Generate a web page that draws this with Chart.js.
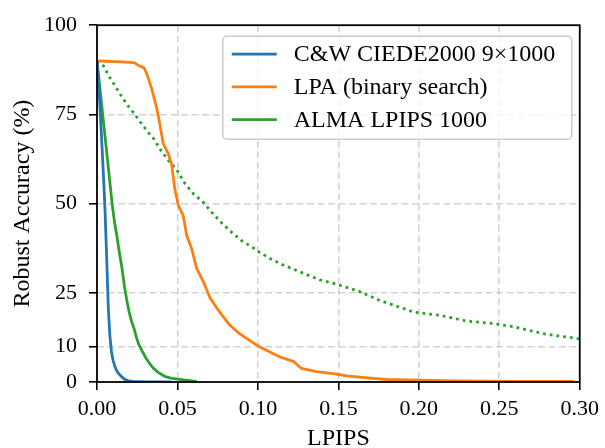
<!DOCTYPE html>
<html><head><meta charset="utf-8">
<script src="https://cdn.jsdelivr.net/npm/chart.js@4"></script>
<style>html,body{margin:0;padding:0;background:#fff}#wrap{width:605px;height:448px}</style>
</head><body><div id="wrap"><canvas id="c" width="605" height="448"></canvas></div>
<script>
// ---- data ----
const seriesLabels = ['C&W CIEDE2000 9×1000', 'LPA (binary search)', 'ALMA LPIPS 1000'];

const cwX = [0, 0.001, 0.002, 0.003, 0.004, 0.005, 0.006, 0.007, 0.008, 0.009, 0.010, 0.011, 0.012, 0.013, 0.015, 0.017, 0.019, 0.022, 0.030, 0.046];
const cwY = [90, 84, 76, 67, 58, 48, 35, 21, 13, 8.5, 6, 4.5, 3.4, 2.6, 1.6, 0.8, 0.4, 0.15, 0.05, 0];

const lpaX = [0, 0.005, 0.010, 0.015, 0.020, 0.023, 0.0256, 0.0293, 0.0307, 0.0338, 0.037, 0.039, 0.0411, 0.0442, 0.0464, 0.0484, 0.0505, 0.0536, 0.0557, 0.0588, 0.0619, 0.066, 0.0681, 0.0702, 0.0743, 0.0784, 0.0826, 0.0888, 0.095, 0.1012, 0.1075, 0.1137, 0.122, 0.127, 0.1365, 0.149, 0.155, 0.1717, 0.18, 0.2006, 0.225, 0.26, 0.296];
const lpaY = [90, 89.9, 89.8, 89.7, 89.6, 89.5, 88.8, 88.0, 86.7, 82.5, 77.0, 72.4, 66.9, 64.1, 61.0, 54.0, 49.6, 46.6, 41.1, 37.4, 31.9, 28.2, 25.9, 23.6, 20.8, 18.3, 15.9, 13.5, 11.6, 9.8, 8.4, 7.0, 5.8, 3.8, 2.9, 2.2, 1.7, 1.0, 0.7, 0.5, 0.3, 0.2, 0.2];

const almaX = [0, 0.002, 0.004, 0.006, 0.008, 0.0095, 0.011, 0.0125, 0.014, 0.0155, 0.017, 0.0185, 0.020, 0.0215, 0.023, 0.0245, 0.026, 0.028, 0.030, 0.0325, 0.035, 0.038, 0.042, 0.046, 0.050, 0.055, 0.062];
const almaY = [90, 81.5, 73, 64.5, 56, 49.5, 44.5, 40.5, 36, 32, 27, 23, 19.5, 17, 15, 12.5, 10.5, 8.7, 7, 5.3, 3.9, 2.7, 1.6, 1.1, 0.8, 0.5, 0.2];

const dottedX = [0, 0.0042, 0.0073, 0.0104, 0.0145, 0.0186, 0.0228, 0.027, 0.0321, 0.0352, 0.0393, 0.0445, 0.0495, 0.0547, 0.0598, 0.066, 0.0712, 0.0774, 0.0836, 0.0899, 0.0971, 0.1002, 0.1075, 0.1157, 0.126, 0.1385, 0.1466, 0.151, 0.163, 0.176, 0.1924, 0.1965, 0.213, 0.2296, 0.246, 0.2586, 0.279, 0.3];
const dottedY = [90, 88.5, 85.8, 83.6, 80.6, 77.8, 75.4, 72.8, 69.8, 68.2, 65.2, 62.0, 59.5, 55.6, 52.8, 50.4, 47.6, 44.6, 42.0, 39.6, 37.6, 36.6, 34.6, 32.8, 30.9, 28.6, 27.7, 27.1, 25.4, 22.8, 20.3, 19.6, 18.7, 17.1, 16.4, 15.5, 13.4, 12.1];

const xTickValues = [0, 0.05, 0.10, 0.15, 0.20, 0.25, 0.30];
const yTickValues = [0, 10, 25, 50, 75, 100];
const xTitle = 'LPIPS';
const yTitle = 'Robust Accuracy (%)';

// ---- chart ----
const FONT = '"Liberation Serif", "Times New Roman", serif';
const pts = (xs, ys) => xs.map((x, i) => ({x: x, y: ys[i]}));

const framePlugin = {
  id: 'frame',
  afterDatasetsDraw(chart) {
    const {ctx, chartArea: a} = chart;
    ctx.save();
    ctx.strokeStyle = '#000';
    ctx.lineWidth = 1.8;
    ctx.strokeRect(a.left, a.top, a.right - a.left, a.bottom - a.top);
    ctx.restore();
  }
};

const legendPlugin = {
  id: 'boxLegend',
  afterDatasetsDraw(chart) {
    const {ctx, chartArea: a} = chart;
    const items = chart.data.datasets.filter(d => d.inLegend);
    const bw = 349, bh = 103;
    const bx = a.right - 8 - bw, by = a.top + 11;
    const r = 4;
    ctx.save();
    ctx.beginPath();
    ctx.moveTo(bx + r, by);
    ctx.arcTo(bx + bw, by, bx + bw, by + bh, r);
    ctx.arcTo(bx + bw, by + bh, bx, by + bh, r);
    ctx.arcTo(bx, by + bh, bx, by, r);
    ctx.arcTo(bx, by, bx + bw, by, r);
    ctx.closePath();
    ctx.fillStyle = 'rgba(255,255,255,0.8)';
    ctx.fill();
    ctx.strokeStyle = '#cccccc';
    ctx.lineWidth = 1.5;
    ctx.stroke();
    ctx.font = '24px ' + FONT;
    ctx.textBaseline = 'middle';
    ctx.textAlign = 'left';
    items.forEach((d, i) => {
      const y = by + 18 + i * 32.7;
      ctx.strokeStyle = d.borderColor;
      ctx.lineWidth = d.borderWidth;
      ctx.beginPath();
      ctx.moveTo(bx + 9, y);
      ctx.lineTo(bx + 54, y);
      ctx.stroke();
      ctx.fillStyle = '#000';
      ctx.fillText(d.label, bx + 71, y + 1);
    });
    ctx.restore();
  }
};

const gridColor = (edgeVals) => (c) => edgeVals.includes(c.tick && c.tick.value) ? 'rgba(0,0,0,0)' : 'rgba(176,176,176,0.55)';

new Chart(document.getElementById('c'), {
  type: 'line',
  data: {
    datasets: [
      {label: seriesLabels[0], data: pts(cwX, cwY), borderColor: '#1f77b4', borderWidth: 2.8, inLegend: true, order: 0},
      {label: seriesLabels[1], data: pts(lpaX, lpaY), borderColor: '#ff7f0e', borderWidth: 2.8, inLegend: true, order: 1},
      {label: seriesLabels[2], data: pts(almaX, almaY), borderColor: '#2ca02c', borderWidth: 2.8, inLegend: true, order: 2},
      {label: '', data: pts(dottedX, dottedY), borderColor: '#2ca02c', borderWidth: 2.8, borderDash: [2.8, 4.0], inLegend: false, order: 3}
    ]
  },
  options: {
    responsive: false,
    devicePixelRatio: 1,
    animation: false,
    layout: {padding: {top: 20, right: 25, bottom: 0, left: 0}},
    elements: {
      point: {radius: 0, hoverRadius: 0},
      line: {tension: 0, borderJoinStyle: 'round', fill: false}
    },
    plugins: {legend: {display: false}, tooltip: {enabled: false}},
    scales: {
      x: {
        type: 'linear', min: 0, max: 0.3,
        afterBuildTicks(s) { s.ticks = xTickValues.map(v => ({value: v})); },
        afterFit(s) { s.height = 66; },
        ticks: {
          autoSkip: false, maxRotation: 0, padding: 6, color: '#000',
          font: {family: FONT, size: 22},
          callback: v => v.toFixed(2)
        },
        grid: {
          color: gridColor([0, 0.3]), lineWidth: 1.6,
          tickLength: 8, tickWidth: 1.6, tickColor: '#000', drawTicks: true
        },
        border: {display: false, dash: [7, 3.5]},
        title: {display: true, text: xTitle, color: '#000', font: {family: FONT, size: 24}, padding: {top: 0, bottom: -5}}
      },
      y: {
        type: 'linear', min: 0, max: 100,
        afterBuildTicks(s) { s.ticks = yTickValues.map(v => ({value: v})); },
        afterFit(s) { s.width = 97; },
        ticks: {
          autoSkip: false, padding: 12, color: '#000',
          font: {family: FONT, size: 22},
          callback: v => String(v)
        },
        grid: {
          color: gridColor([0, 100]), lineWidth: 1.6,
          tickLength: 8, tickWidth: 1.6, tickColor: '#000', drawTicks: true
        },
        border: {display: false, dash: [7, 3.5]},
        title: {display: true, text: yTitle, color: '#000', font: {family: FONT, size: 24}, padding: {top: 8, bottom: 0}}
      }
    }
  },
  plugins: [framePlugin, legendPlugin]
});
</script>
</body></html>
